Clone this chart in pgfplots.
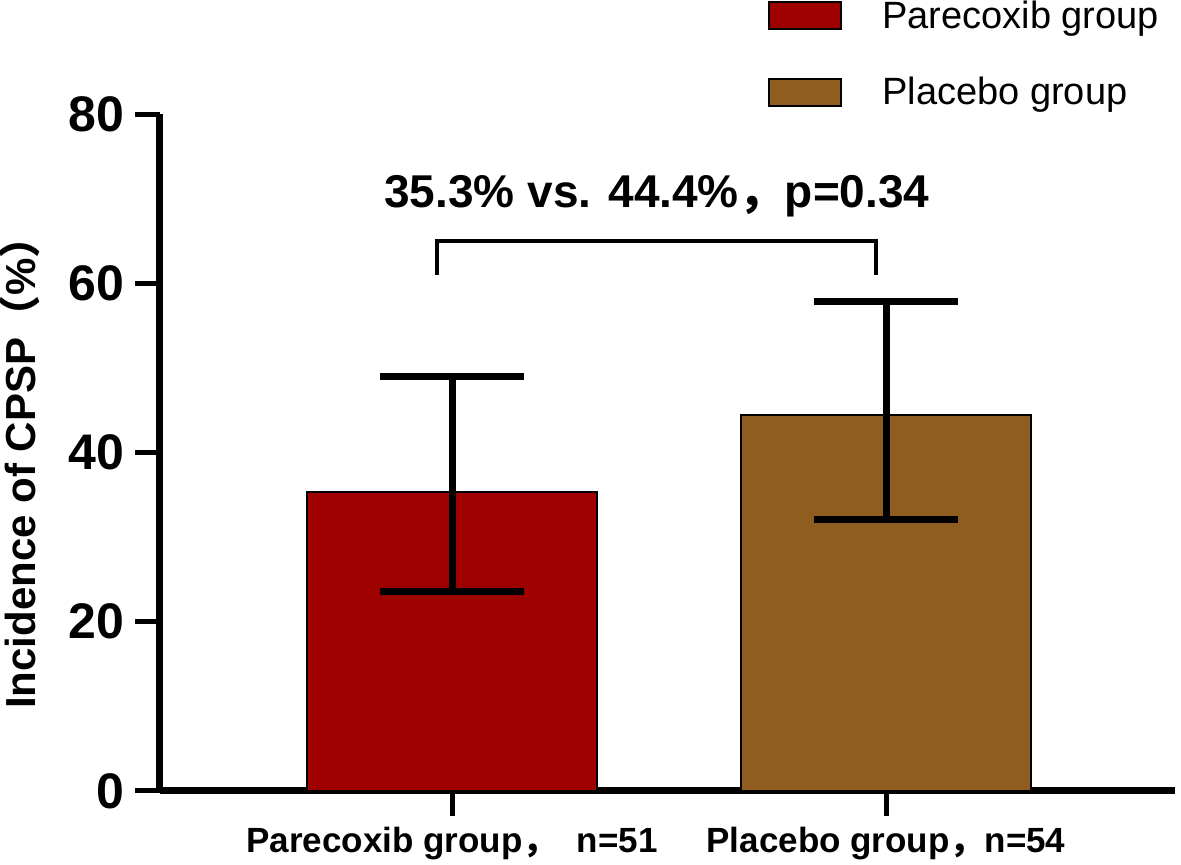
\documentclass[border=0pt]{standalone}
\usepackage{pgfplots}
\pgfplotsset{compat=1.18}
\usepackage{fontspec}
\setmainfont{Liberation Sans}
\newfontfamily\cjk{Noto Sans CJK SC}
\definecolor{parered}{HTML}{9E0000}
\definecolor{placebrown}{HTML}{8F5E1E}
\begin{document}
\begin{tikzpicture}
\path[use as bounding box] (-80pt,-37pt) rectangle (510.5pt,395.5pt);
\begin{axis}[
  scale only axis,
  width=507.5pt, height=338.5pt,
  at={(0,0)}, anchor=south west,
  xmin=-0.673, xmax=1.666,
  ymin=0, ymax=80,
  ytick={0,20,40,60,80},
  xtick={0,1},
  xticklabels={{Parecoxib group{\cjk ，}\ \ n=51},{Placebo group{\cjk ，}n=54}},
  axis lines=left,
  axis line style={-, line width=3.5pt, black},
  tick style={line width=2.5pt, black},
  tick align=outside,
  major tick length=12.5pt,
  /pgf/number format/assume math mode=true,
  yticklabel style={font=\bfseries\fontsize{25}{25}\selectfont, xshift=-2pt},
  xticklabel style={font=\bfseries\fontsize{17.5}{17.5}\selectfont, yshift=-2pt},
  ylabel={Incidence of CPSP{\cjk （}\%{\cjk ）}},
  ylabel style={font=\bfseries\fontsize{21}{21}\selectfont, at={(axis description cs:-0.138,0.485)}, anchor=center},
  clip=false,
  legend style={draw=none, fill=none, inner sep=0pt, at={(axis description cs:0.599,1.174)}, anchor=north west,
    font=\fontsize{19}{19}\selectfont, row sep=19pt, nodes={inner xsep=20pt}},
  legend cell align=left,
  legend image code/.code={\draw[#1,draw=black,line width=1pt] (0pt,-6.75pt) rectangle (36pt,6.75pt);},
]
\addplot[ybar, bar shift=0pt, bar width=0.668, fill=parered, draw=black, line width=0.8pt,
  error bars/.cd, y dir=both, y explicit,
  error bar style={line width=3.5pt, black},
  error mark options={rotate=90, mark size=36pt, line width=3.5pt, black}]
  coordinates {(0,35.3) += (0,13.7) -= (0,11.7)};
\addlegendentry{Parecoxib group}
\addplot[ybar, bar shift=0pt, bar width=0.668, fill=placebrown, draw=black, line width=0.8pt,
  error bars/.cd, y dir=both, y explicit,
  error bar style={line width=3.5pt, black},
  error mark options={rotate=90, mark size=36pt, line width=3.5pt, black}]
  coordinates {(1,44.4) += (0,13.5) -= (0,12.3)};
\addlegendentry{Placebo group}
\addplot[black, line width=2pt, no marks, forget plot] coordinates {(-0.035,61) (-0.035,65) (0.977,65) (0.977,61)};
\node[anchor=base, font=\bfseries\fontsize{23}{23}\selectfont] at (axis cs:0.472,68.9) {35.3\% vs. 44.4\%{\cjk ，}p=0.34};
\end{axis}
\end{tikzpicture}
\end{document}
